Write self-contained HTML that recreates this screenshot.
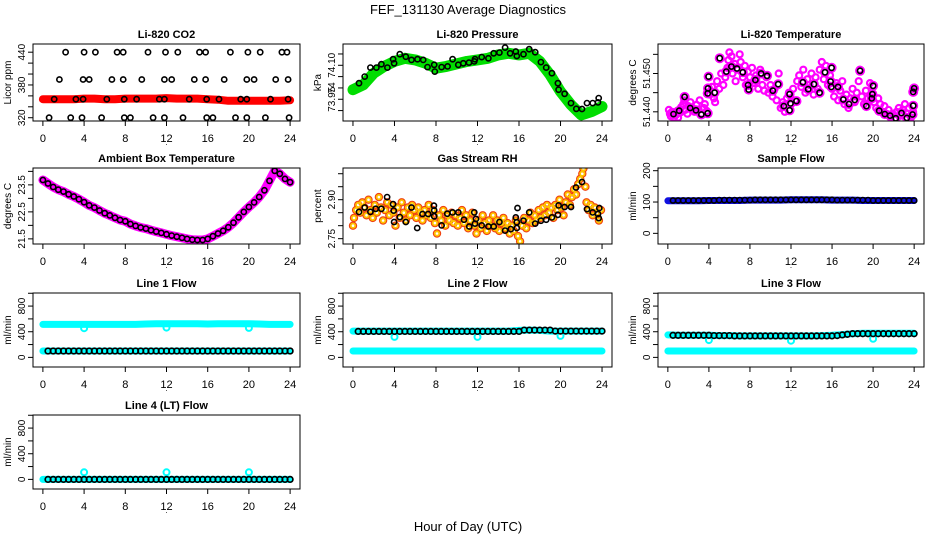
<!DOCTYPE html>
<html><head><meta charset="utf-8"><title>FEF_131130 Average Diagnostics</title>
<style>
html,body{margin:0;padding:0;background:#fff;}
svg{display:block;font-family:"Liberation Sans",Arial,sans-serif;}
</style></head>
<body>
<svg id="chart" width="936" height="540" viewBox="0 0 936 540" xmlns="http://www.w3.org/2000/svg">
<rect x="0" y="0" width="936" height="540" fill="#fff"/>
<text x="468" y="14" text-anchor="middle" font-size="13">FEF_131130  Average Diagnostics</text>
<text x="468" y="531" text-anchor="middle" font-size="13">Hour of Day (UTC)</text>
</svg>
<script>
// ---------- data ----------
const xTicks = [0,4,8,12,16,20,24];
const hoursHourly = [0,1,2,3,4,5,6,7,8,9,10,11,12,13,14,15,16,17,18,19,20,21,22,23,24];
const hoursHalf = [0.5,1,1.5,2,2.5,3,3.5,4,4.5,5,5.5,6,6.5,7,7.5,8,8.5,9,9.5,10,10.5,11,11.5,12,12.5,13,13.5,14,14.5,15,15.5,16,16.5,17,17.5,18,18.5,19,19.5,20,20.5,21,21.5,22,22.5,23,23.5,24];

// CO2
const co2Hours = [2.2,4.0,5.1,7.2,7.8,10.2,11.9,13.1,15.2,15.8,18.2,19.9,21.1,23.2,23.7, 1.6,3.9,4.5,6.7,7.8,9.6,11.8,12.5,14.7,15.8,17.6,19.8,20.5,22.6,23.8, 1.1,3.2,3.9,6.2,7.9,9.1,11.3,11.8,14.2,15.9,17.1,19.2,19.8,22.1,23.8, 0.6,2.7,3.8,5.7,7.9,8.5,10.7,11.8,13.6,15.9,16.5,18.7,19.8,21.6,23.9];
const co2Values = [440,440,440,440,440,440,440,440,440,440,440,440,440,440,440, 390,390,390,390,390,390,390,390,390,390,390,390,390,390,390, 354,354,354,354,354,354,354,354,354,354,354,354,354,354,354, 320,320,320,320,320,320,320,320,320,320,320,320,320,320,320];
const co2Band = [354,354,354,354,355,355,354,354,355,355,355,355,356,355,355,355,354,353,351,351,351,351,351,351,352];

// Pressure
const presHours = [0.58,1.13,1.68,2.26,2.74,3.32,3.87,3.96,4.51,5.09,5.64,6.22,6.77,7.18,7.83,7.89,8.54,9.12,9.60,10.15,10.63,11.18,11.69,11.76,12.40,13.05,13.56,14.11,14.66,15.14,15.69,15.79,16.43,16.98,17.56,18.11,18.62,19.17,19.75,19.81,20.39,21.01,21.52,22.07,22.55,23.10,23.61,23.68];
const presValues = [74.021,74.050,74.090,74.090,74.105,74.090,74.127,74.109,74.149,74.138,74.124,74.127,74.124,74.092,74.102,74.072,74.092,74.095,74.127,74.102,74.109,74.112,74.117,74.127,74.136,74.131,74.153,74.156,74.178,74.153,74.161,74.141,74.149,74.171,74.158,74.114,74.090,74.065,74.021,73.992,73.974,73.933,73.908,73.907,73.933,73.933,73.936,73.955];
const presBand = [73.992,74.014,74.065,74.095,74.117,74.131,74.124,74.109,74.087,74.095,74.106,74.117,74.124,74.131,74.146,74.153,74.146,74.153,74.117,74.058,73.984,73.926,73.881,73.896,73.918];

// Li-820 temperature
const tempHours = [0.55,1.11,1.63,2.18,2.74,3.26,3.88,3.88,3.91,3.97,4.56,5.05,5.70,6.19,6.74,7.30,7.82,7.88,8.53,9.09,9.67,10.23,10.75,11.30,11.86,11.95,11.86,12.54,13.16,13.68,14.23,14.79,15.31,15.86,15.93,15.96,16.58,17.10,17.65,18.21,18.73,19.35,19.87,19.93,20.00,20.59,21.14,21.66,22.21,22.77,23.29,23.84,23.91,23.91,24.0];
const tempValues = [51.4394,51.4403,51.4439,51.4410,51.4404,51.4393,51.4396,51.4448,51.4461,51.4492,51.4450,51.4540,51.4505,51.4518,51.4513,51.4503,51.4470,51.4458,51.4483,51.4500,51.4494,51.4455,51.4472,51.4415,51.4404,51.4422,51.4446,51.4428,51.4477,51.4459,51.4472,51.4450,51.4503,51.4479,51.4465,51.4515,51.4465,51.4432,51.4420,51.4431,51.4507,51.4415,51.4435,51.4446,51.4468,51.4403,51.4394,51.4390,51.4383,51.4397,51.4384,51.4393,51.4416,51.4452,51.4461];
const tempCloudHours = [0.1,0.2,0.3,0.4,0.6,0.8,0.9,1.0,1.2,1.3,1.5,1.6,1.7,1.9,2.0,2.2,2.4,2.6,2.8,3.0,3.1,3.3,3.5,3.6,3.8,4.1,4.3,4.5,4.6,4.8,5.0,5.2,5.4,5.6,5.8,5.9,6.0,6.2,6.3,6.5,6.6,6.8,7.0,7.1,7.3,7.5,7.6,7.8,8.0,8.2,8.4,8.6,8.8,9.0,9.2,9.4,9.6,9.8,10.0,10.2,10.4,10.6,10.8,11.0,11.2,11.4,11.6,11.8,12.0,12.2,12.4,12.6,12.8,13.0,13.2,13.4,13.6,13.8,14.0,14.2,14.4,14.6,14.8,15.0,15.2,15.4,15.6,15.8,16.0,16.2,16.4,16.6,16.8,17.0,17.2,17.4,17.6,17.8,18.0,18.2,18.4,18.6,18.7,18.9,19.1,19.3,19.5,19.7,19.9,20.1,20.3,20.5,20.7,20.9,21.1,21.3,21.5,21.7,21.9,22.1,22.3,22.5,22.7,22.9,23.1,23.3,23.5,23.7,23.9];
const tempCloudValues = [51.4405,51.4395,51.4388,51.4400,51.4385,51.4392,51.4402,51.4385,51.4398,51.4412,51.4420,51.4430,51.4405,51.4395,51.4415,51.4425,51.4410,51.4400,51.4418,51.4405,51.4430,51.4395,51.4410,51.4420,51.4402,51.4445,51.4465,51.4435,51.4425,51.4480,51.4460,51.4500,51.4470,51.4490,51.4515,51.4535,51.4555,51.4545,51.4500,51.4525,51.4480,51.4510,51.4550,51.4530,51.4490,51.4520,51.4470,51.4505,51.4490,51.4515,51.4475,51.4495,51.4460,51.4510,51.4470,51.4455,51.4490,51.4450,51.4470,51.4440,51.4460,51.4430,51.4500,51.4410,51.4425,51.4400,51.4435,51.4450,51.4420,51.4460,51.4430,51.4480,51.4495,51.4465,51.4510,51.4450,51.4485,51.4470,51.4500,51.4445,51.4490,51.4460,51.4510,51.4530,51.4485,51.4520,51.4470,51.4495,51.4460,51.4440,51.4475,51.4430,51.4455,51.4480,51.4420,51.4445,51.4410,51.4435,51.4460,51.4425,51.4450,51.4480,51.4510,51.4440,51.4420,51.4455,51.4435,51.4475,51.4445,51.4425,51.4410,51.4435,51.4420,51.4400,51.4415,51.4395,51.4405,51.4385,51.4395,51.4380,51.4400,51.4410,51.4390,51.4405,51.4420,51.4395,51.4410,51.4385,51.4400];

// Ambient box temperature
const ambHours = [0,0.5,1,1.5,2,2.5,3,3.5,4,4.5,5,5.5,6,6.5,7,7.5,8,8.5,9,9.5,10,10.5,11,11.5,12,12.5,13,13.5,14,14.5,15,15.5,16,16.5,17,17.5,18,18.5,19,19.5,20,20.5,21,21.5,22,22.5,23,23.5,24];
const ambValues = [23.68,23.55,23.42,23.32,23.25,23.15,23.07,22.97,22.86,22.74,22.66,22.55,22.45,22.37,22.28,22.2,22.15,22.05,21.98,21.92,21.88,21.82,21.77,21.72,21.67,21.62,21.58,21.54,21.5,21.47,21.46,21.46,21.5,21.6,21.7,21.8,21.93,22.1,22.3,22.5,22.68,22.85,23.05,23.3,23.65,24.02,23.91,23.72,23.6];

// Gas stream RH
const rhHours = [0.58,1.13,1.68,2.19,2.74,3.29,3.87,3.93,3.96,4.51,5.09,5.64,6.19,6.70,7.25,7.80,7.83,7.83,8.54,9.09,9.60,10.15,10.70,11.21,11.69,11.76,11.86,12.40,13.05,13.56,14.11,14.66,15.21,15.69,15.79,15.79,15.85,16.43,16.98,17.56,18.11,18.62,19.17,19.75,19.81,20.39,21.01,21.49,22.07,22.55,23.10,23.61,23.68,23.74];
const rhValues = [2.853,2.870,2.853,2.865,2.865,2.910,2.883,2.858,2.814,2.833,2.814,2.870,2.791,2.845,2.845,2.877,2.859,2.836,2.801,2.846,2.851,2.851,2.823,2.797,2.851,2.808,2.826,2.801,2.797,2.797,2.814,2.781,2.787,2.832,2.813,2.791,2.868,2.819,2.851,2.808,2.819,2.823,2.832,2.842,2.878,2.872,2.872,2.947,2.968,2.864,2.851,2.845,2.829,2.868];
const rhCloudHours = [0.0,0.1,0.3,0.5,0.7,0.9,1.1,1.3,1.5,1.7,1.9,2.1,2.3,2.5,2.7,2.9,3.1,3.3,3.5,3.7,3.9,4.1,4.3,4.5,4.7,4.9,5.1,5.3,5.5,5.7,5.9,6.1,6.3,6.5,6.7,6.9,7.1,7.3,7.5,7.7,7.9,8.1,8.3,8.5,8.7,8.9,9.1,9.3,9.5,9.7,9.9,10.1,10.3,10.5,10.7,10.9,11.1,11.3,11.5,11.7,11.9,12.1,12.3,12.5,12.7,12.9,13.1,13.3,13.5,13.7,13.9,14.1,14.3,14.5,14.7,14.9,15.1,15.3,15.5,15.7,15.9,16.1,16.3,16.5,16.7,16.9,17.1,17.3,17.5,17.7,17.9,18.1,18.3,18.5,18.7,18.9,19.1,19.3,19.5,19.7,19.9,20.1,20.3,20.5,20.7,20.9,21.1,21.3,21.5,21.7,21.9,22.1,22.2,22.4,22.5,22.7,22.9,23.1,23.3,23.5,23.7,23.9];
const rhCloudValues = [2.80,2.83,2.86,2.88,2.85,2.89,2.87,2.84,2.90,2.86,2.83,2.88,2.85,2.91,2.87,2.82,2.86,2.89,2.84,2.88,2.85,2.80,2.87,2.83,2.89,2.85,2.82,2.87,2.84,2.88,2.86,2.83,2.87,2.85,2.82,2.86,2.84,2.88,2.83,2.86,2.81,2.77,2.84,2.82,2.86,2.80,2.84,2.82,2.85,2.81,2.84,2.80,2.83,2.86,2.81,2.84,2.79,2.82,2.85,2.80,2.77,2.82,2.79,2.84,2.81,2.78,2.82,2.80,2.84,2.79,2.82,2.78,2.81,2.83,2.79,2.81,2.77,2.80,2.78,2.82,2.76,2.74,2.80,2.83,2.79,2.82,2.85,2.81,2.84,2.82,2.86,2.83,2.87,2.84,2.88,2.85,2.87,2.83,2.88,2.86,2.90,2.87,2.84,2.89,2.92,2.88,2.91,2.94,2.92,2.96,2.98,3.00,3.02,2.95,2.89,2.86,2.88,2.84,2.87,2.85,2.82,2.86];

// Sample flow
const sampleBand = [104,104,104,104,105,105,105,105,106,106,106,106,107,107,107,107,106,106,106,105,105,105,105,105,105];
const sampleBlack = [105,105,105,105,105,105,105,105,105,106,106,106,106,106,106,106,107,107,107,107,107,107,107,107,107,107,107,107,107,107,107,107,106,106,106,106,106,106,106,105,105,105,105,105,105,105,105,105];

// Line flows
const dipHours = [4,12,20];
const line1CyanHigh = [515,515,515,515,515,515,515,515,515,515,520,525,525,525,525,525,520,525,525,525,525,520,515,515,515];
const line1CyanLow = [100,100,100,100,100,100,100,100,100,100,100,100,100,100,100,100,100,100,100,100,100,100,100,100,100];
const line1Dips = [455,465,460];
const line1Black = [100,100,100,100,100,100,100,100,100,100,100,100,100,100,100,100,100,100,100,100,100,100,100,100,100,100,100,100,100,100,100,100,100,100,100,100,100,100,100,100,100,100,100,100,100,100,100,100];
const line2CyanHigh = [410,410,410,410,410,410,410,410,410,410,410,410,410,410,410,410,420,425,420,410,410,410,410,410,410];
const line2CyanLow = [100,100,100,100,100,100,100,100,100,100,100,100,100,100,100,100,100,100,100,100,100,100,100,100,100];
const line2Dips = [320,320,335];
const line2Black = [405,405,405,405,405,405,405,405,405,405,405,405,405,405,405,405,405,405,405,405,405,405,405,405,405,405,405,405,405,405,405,405,425,425,425,425,425,425,410,410,410,410,410,410,410,410,410,410];
const line3CyanHigh = [350,345,345,345,345,340,340,335,335,335,335,335,335,335,335,340,345,355,370,375,375,375,375,375,375];
const line3CyanLow = [100,100,100,100,100,100,100,100,100,100,100,100,100,100,100,100,100,100,100,100,100,100,100,100,100];
const line3Dips = [270,260,290];
const line3Black = [345,345,345,345,345,345,345,345,340,340,340,340,335,335,335,335,335,335,335,335,335,335,335,335,335,335,335,335,335,335,335,335,340,350,360,370,370,370,370,370,370,370,370,370,370,370,370,370];
const line4Cyan = [0,0,0,0,0,0,0,0,0,0,0,0,0,0,0,0,0,0,0,0,0,0,0,0,0];
const line4Dips = [110,110,110];
const line4Black = [0,0,0,0,0,0,0,0,0,0,0,0,0,0,0,0,0,0,0,0,0,0,0,0,0,0,0,0,0,0,0,0,0,0,0,0,0,0,0,0,0,0,0,0,0,0,0,0];

// ---------- drawing ----------
const NS = "http://www.w3.org/2000/svg";
const svg = document.getElementById("chart");
function mk(tag, parent){ const e = document.createElementNS(NS, tag); (parent||svg).appendChild(e); return e; }

function makePanel(name, title, box, ylim, yticks, ylabels, ylab){
  const g = mk("g");
  
  
  const [x0,y0,x1,y1] = box;
  const xs = v => x0 + (v + 0.96) / 25.92 * (x1 - x0);
  const ys = v => y1 - (v - ylim[0]) / (ylim[1] - ylim[0]) * (y1 - y0);
  const marks = mk("g", g);
  
  
  const clip = mk("clipPath", g); clip.setAttribute("id", name + "-clip");
  const cr = mk("rect", clip); cr.setAttribute("x", x0); cr.setAttribute("y", y0); cr.setAttribute("width", x1-x0); cr.setAttribute("height", y1-y0);
  marks.setAttribute("clip-path", "url(#" + name + "-clip)");
  const frame = mk("rect", g);
  
  
  frame.setAttribute("x", x0); frame.setAttribute("y", y0); frame.setAttribute("width", x1-x0); frame.setAttribute("height", y1-y0);
  frame.setAttribute("fill", "none"); frame.setAttribute("stroke", "#000"); frame.setAttribute("stroke-width", "1");
  const t = mk("text", g);
  
  
  t.setAttribute("x", (x0+x1)/2); t.setAttribute("y", y0 - 6); t.setAttribute("text-anchor", "middle");
  t.setAttribute("font-size", "11"); t.setAttribute("font-weight", "bold"); t.textContent = title;
  const xa = mk("g", g);
  
  
  xTicks.forEach(v => {
    const l = mk("line", xa);
    
    
    l.setAttribute("x1", xs(v)); l.setAttribute("x2", xs(v)); l.setAttribute("y1", y1); l.setAttribute("y2", y1+5); l.setAttribute("stroke", "#000");
    const tx = mk("text", xa);
    
    
    tx.setAttribute("x", xs(v)); tx.setAttribute("y", y1 + 21); tx.setAttribute("text-anchor", "middle"); tx.setAttribute("font-size", "11");
    tx.textContent = v;
  });
  const dot = mk("text", xa);
  
  
  dot.setAttribute("x", (x0+x1)/2); dot.setAttribute("y", y1 + 24); dot.setAttribute("text-anchor", "middle"); dot.setAttribute("font-size", "8");
  dot.textContent = ".";
  const ya = mk("g", g);
  
  
  yticks.forEach(v => {
    const l = mk("line", ya);
    
    
    l.setAttribute("x1", x0); l.setAttribute("x2", x0-5); l.setAttribute("y1", ys(v)); l.setAttribute("y2", ys(v)); l.setAttribute("stroke", "#000");
  });
  ylabels.forEach(lb => {
    const tx = mk("text", ya);
    
    
    const yy = ys(lb[0]);
    tx.setAttribute("x", x0-8); tx.setAttribute("y", yy); tx.setAttribute("text-anchor", "middle"); tx.setAttribute("font-size", "10");
    tx.setAttribute("transform", "rotate(-90 " + (x0-8) + " " + yy + ")");
    tx.textContent = lb[1];
  });
  const yl = mk("text", ya);
  
  
  yl.setAttribute("x", x0-22); yl.setAttribute("y", (y0+y1)/2); yl.setAttribute("text-anchor", "middle"); yl.setAttribute("font-size", "10");
  yl.setAttribute("transform", "rotate(-90 " + (x0-22) + " " + ((y0+y1)/2) + ")");
  yl.textContent = ylab;
  return {xs, ys, marks};
}

function band(p, hx, vy, color, width, name){
  const pl = mk("polyline", p.marks);
  
  
  pl.setAttribute("points", hx.map((h,i) => p.xs(h).toFixed(1) + "," + p.ys(vy[i]).toFixed(1)).join(" "));
  pl.setAttribute("fill", "none"); pl.setAttribute("stroke", color); pl.setAttribute("stroke-width", width);
  pl.setAttribute("stroke-linejoin", "round"); pl.setAttribute("stroke-linecap", "round");
}
function pts(p, hx, vy, color, r, sw, name){
  const g = mk("g", p.marks);
  
  
  hx.forEach((h,i) => {
    const c = mk("circle", g);
    
    
    c.setAttribute("cx", p.xs(h).toFixed(1)); c.setAttribute("cy", p.ys(vy[i]).toFixed(1));
    c.setAttribute("r", r); c.setAttribute("fill", "none"); c.setAttribute("stroke", color); c.setAttribute("stroke-width", sw);
  });
}

const C1 = [33,300], C2 = [343,612], C3 = [658,924];
const R1 = [44,121], R2 = [168,244], R3 = [293,367], R4 = [415,489];
const flowTicks = [0,200,400,600,800,1000];
const flowLabels = [[0,"0"],[400,"400"],[800,"800"]];
const flowLim = [-150,1004];

let p = makePanel("co2-panel","Li-820 CO2",[C1[0],R1[0],C1[1],R1[1]],[314,455],[320,340,360,380,400,420,440],[[320,"320"],[380,"380"],[440,"440"]],"Licor ppm");
band(p, hoursHourly, co2Band, "#ff0000", 8, "co2-series-red");
pts(p, co2Hours, co2Values, "#000", 2.6, 1.6, "co2-series-black");

p = makePanel("pressure-panel","Li-820 Pressure",[C2[0],R1[0],C2[1],R1[1]],[73.854,74.194],[73.90,73.95,74.00,74.05,74.10,74.15],[[73.95,"73.95"],[74.0,"74"],[74.1,"74.10"]],"kPa");
band(p, hoursHourly, presBand, "#00dd00", 11, "pressure-series-green");
pts(p, presHours, presValues, "#000", 2.6, 1.6, "pressure-series-black");

p = makePanel("temperature-panel","Li-820 Temperature",[C3[0],R1[0],C3[1],R1[1]],[51.4376,51.4577],[51.440,51.445,51.450,51.455],[[51.440,"51.440"],[51.450,"51.450"]],"degrees C");
pts(p, tempCloudHours, tempCloudValues, "#ff00ff", 3, 2.2, "temperature-series-magenta");
pts(p, tempHours, tempValues, "#ff00ff", 4, 2, "temperature-series-magenta-2");
pts(p, tempHours, tempValues, "#000", 2.6, 1.6, "temperature-series-black");

p = makePanel("ambient-panel","Ambient Box Temperature",[C1[0],R2[0],C1[1],R2[1]],[21.31,24.125],[21.5,22.0,22.5,23.0,23.5,24.0],[[21.5,"21.5"],[22.5,"22.5"],[23.5,"23.5"]],"degrees C");
band(p, ambHours, ambValues, "#ff00ff", 9, "ambient-series-magenta");
pts(p, ambHours, ambValues, "#000", 2.6, 1.6, "ambient-series-black");

p = makePanel("rh-panel","Gas Stream RH",[C2[0],R2[0],C2[1],R2[1]],[2.7295,3.022],[2.75,2.80,2.85,2.90,2.95,3.00],[[2.75,"2.75"],[2.90,"2.90"]],"percent");
pts(p, rhCloudHours, rhCloudValues, "#f04010", 3.4, 1.6, "rh-series-red");
pts(p, rhCloudHours, rhCloudValues, "#ffc400", 2.2, 1.8, "rh-series-orange");
pts(p, rhHours, rhValues, "#000", 2.6, 1.6, "rh-series-black");

p = makePanel("sample-flow-panel","Sample Flow",[C3[0],R2[0],C3[1],R2[1]],[-34,208.6],[0,50,100,150,200],[[0,"0"],[100,"100"],[200,"200"]],"ml/min");
band(p, hoursHourly, sampleBand, "#1010e0", 7, "sample-flow-series-blue");
pts(p, hoursHalf, sampleBlack, "#000", 2.6, 1.6, "sample-flow-series-black");

p = makePanel("line1-panel","Line 1 Flow",[C1[0],R3[0],C1[1],R3[1]],flowLim,flowTicks,flowLabels,"ml/min");
band(p, hoursHourly, line1CyanHigh, "#00ffff", 7, "line1-series-cyan-high");
band(p, hoursHourly, line1CyanLow, "#00ffff", 7, "line1-series-cyan-low");
pts(p, dipHours, line1Dips, "#00ffff", 3, 2, "line1-series-cyan-dips");
pts(p, hoursHalf, line1Black, "#000", 2.8, 1.7, "line1-series-black");

p = makePanel("line2-panel","Line 2 Flow",[C2[0],R3[0],C2[1],R3[1]],flowLim,flowTicks,flowLabels,"ml/min");
band(p, hoursHourly, line2CyanHigh, "#00ffff", 7, "line2-series-cyan-high");
band(p, hoursHourly, line2CyanLow, "#00ffff", 7, "line2-series-cyan-low");
pts(p, dipHours, line2Dips, "#00ffff", 3, 2, "line2-series-cyan-dips");
pts(p, hoursHalf, line2Black, "#000", 2.8, 1.7, "line2-series-black");

p = makePanel("line3-panel","Line 3 Flow",[C3[0],R3[0],C3[1],R3[1]],flowLim,flowTicks,flowLabels,"ml/min");
band(p, hoursHourly, line3CyanHigh, "#00ffff", 7, "line3-series-cyan-high");
band(p, hoursHourly, line3CyanLow, "#00ffff", 7, "line3-series-cyan-low");
pts(p, dipHours, line3Dips, "#00ffff", 3, 2, "line3-series-cyan-dips");
pts(p, hoursHalf, line3Black, "#000", 2.8, 1.7, "line3-series-black");

p = makePanel("line4-panel","Line 4 (LT) Flow",[C1[0],R4[0],C1[1],R4[1]],flowLim,flowTicks,flowLabels,"ml/min");
band(p, hoursHourly, line4Cyan, "#00ffff", 7, "line4-series-cyan");
pts(p, dipHours, line4Dips, "#00ffff", 3, 2, "line4-series-cyan-dips");
pts(p, hoursHalf, line4Black, "#000", 2.8, 1.7, "line4-series-black");
</script>
</body></html>
